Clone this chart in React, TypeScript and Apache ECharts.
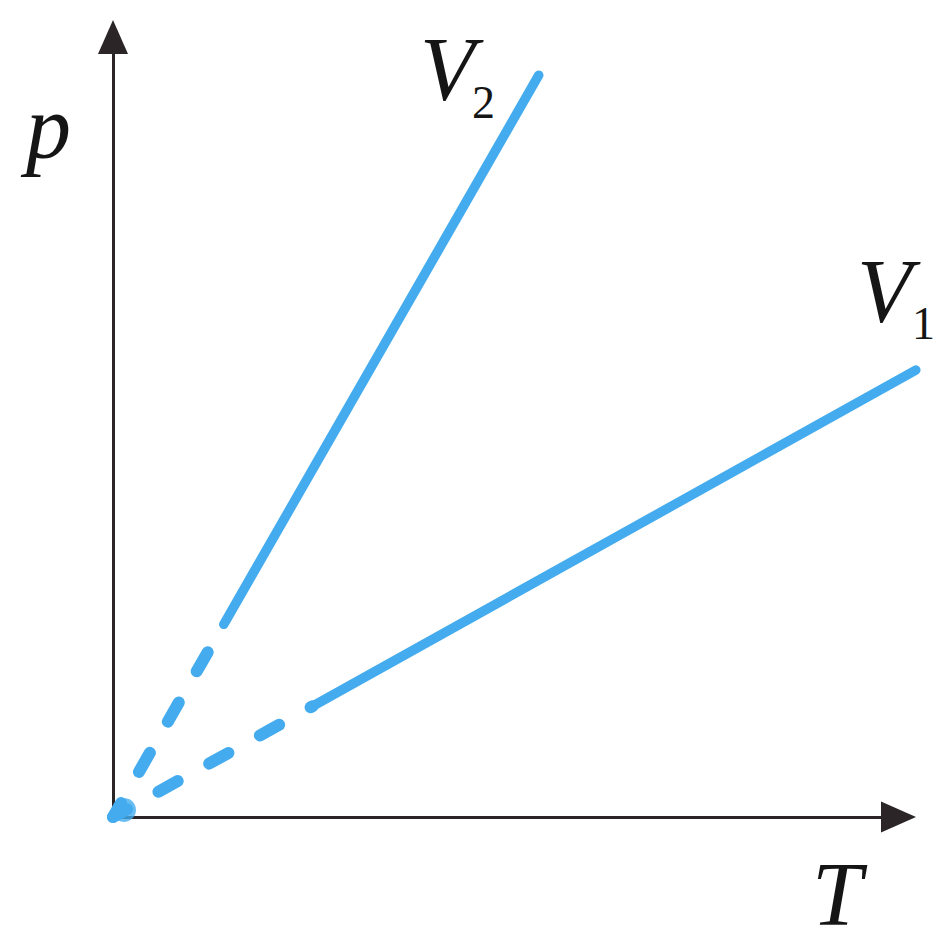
import React, { useEffect, useRef } from "react";
import * as echarts from "echarts";

// Axis ranges (arbitrary units); the data grid extends a little past the arrow
const xRange = [0, 100];
const yRange = [0, 100];
const xDataMax = 103;

// Isochores: dashed extrapolation towards origin + measured solid part
const v2Dashed = [
  [0, 0],
  [14.1, 24.7],
];
const v2Solid = [
  [14.1, 24.7],
  [54.2, 95.1],
];
const v1Dashed = [
  [0, 0],
  [25.4, 14.2],
];
const v1Solid = [
  [25.4, 14.2],
  [102.2, 57.3],
];
// blob where both dashed lines meet at the origin
const originDot = [[1.4, 0.9]];

const labels = {
  yName: "p",
  xName: "T",
  v2: ["V", "2"],
  v1: ["V", "1"],
};

const BLUE = "#44acee";
const AXIS = "#2b2527";
const SERIF = "'Liberation Serif', 'Times New Roman', 'DejaVu Serif', serif";

export default function App() {
  const ref = useRef<HTMLDivElement>(null);

  useEffect(() => {
    if (!ref.current) return;
    const chart = echarts.init(ref.current, undefined, { renderer: "svg" });

    const hidden = {
      type: "value" as const,
      axisTick: { show: false },
      axisLabel: { show: false },
      splitLine: { show: false },
    };

    const dashed = (data: number[][]) => ({
      type: "line",
      data,
      xAxisIndex: 0,
      yAxisIndex: 0,
      showSymbol: false,
      clip: false,
      silent: true,
      lineStyle: { color: BLUE, width: 12, cap: "round", type: [22, 36], dashOffset: 6 },
    });
    const solid = (data: number[][]) => ({
      type: "line",
      data,
      xAxisIndex: 0,
      yAxisIndex: 0,
      showSymbol: false,
      clip: false,
      silent: true,
      lineStyle: { color: BLUE, width: 9.5, cap: "round", type: "solid" },
    });

    const txt = (text: string, x: number, y: number, size: number, italic = true) => ({
      type: "text",
      x,
      y,
      style: {
        text,
        fill: "#151515",
        fontFamily: SERIF,
        fontStyle: italic ? "italic" : "normal",
        fontSize: size,
        textAlign: "left",
        textVerticalAlign: "middle",
      },
    });

    const pxPerUnit = (898.5 - 113) / (xRange[1] - xRange[0]);
    const dataRight = 948 - (113 + pxPerUnit * xDataMax);

    chart.setOption({
      animation: false,
      backgroundColor: "#ffffff",
      grid: [
        { left: 113, right: dataRight, top: 37, bottom: 131 },
        { left: 113, right: 49.5, top: 37, bottom: 131 },
      ],
      xAxis: [
        { ...hidden, gridIndex: 0, min: xRange[0], max: xDataMax, axisLine: { show: false } },
        {
          ...hidden,
          gridIndex: 1,
          min: xRange[0],
          max: xRange[1],
          axisLine: {
            show: true,
            onZero: false,
            symbol: ["none", "triangle"],
            symbolSize: [31, 35],
            lineStyle: { color: AXIS, width: 3 },
          },
        },
      ],
      yAxis: [
        { ...hidden, gridIndex: 0, min: yRange[0], max: yRange[1], axisLine: { show: false } },
        {
          ...hidden,
          gridIndex: 1,
          min: yRange[0],
          max: yRange[1],
          axisLine: {
            show: true,
            onZero: false,
            symbol: ["none", "triangle"],
            symbolSize: [30, 34],
            lineStyle: { color: AXIS, width: 3 },
          },
        },
      ],
      series: [
        dashed(v2Dashed),
        solid(v2Solid),
        dashed(v1Dashed),
        solid(v1Solid),
        {
          type: "scatter",
          data: originDot,
          xAxisIndex: 0,
          yAxisIndex: 0,
          symbol: "circle",
          symbolSize: 24,
          clip: false,
          silent: true,
          itemStyle: { color: BLUE },
        },
      ],
      graphic: [
        txt(labels.yName, 26, 127.6, 90),
        txt(labels.xName, 812, 894.6, 90),
        txt(labels.v2[0], 420, 69.6, 90),
        txt(labels.v2[1], 472, 102.5, 46, false),
        txt(labels.v1[0], 857, 291.6, 90),
        txt(labels.v1[1], 912, 323.5, 46, false),
      ],
    });

    return () => chart.dispose();
  }, []);

  return (
    <div
      ref={ref}
      style={{ position: "fixed", left: 0, top: 0, width: 948, height: 948, background: "#fff" }}
    />
  );
}
